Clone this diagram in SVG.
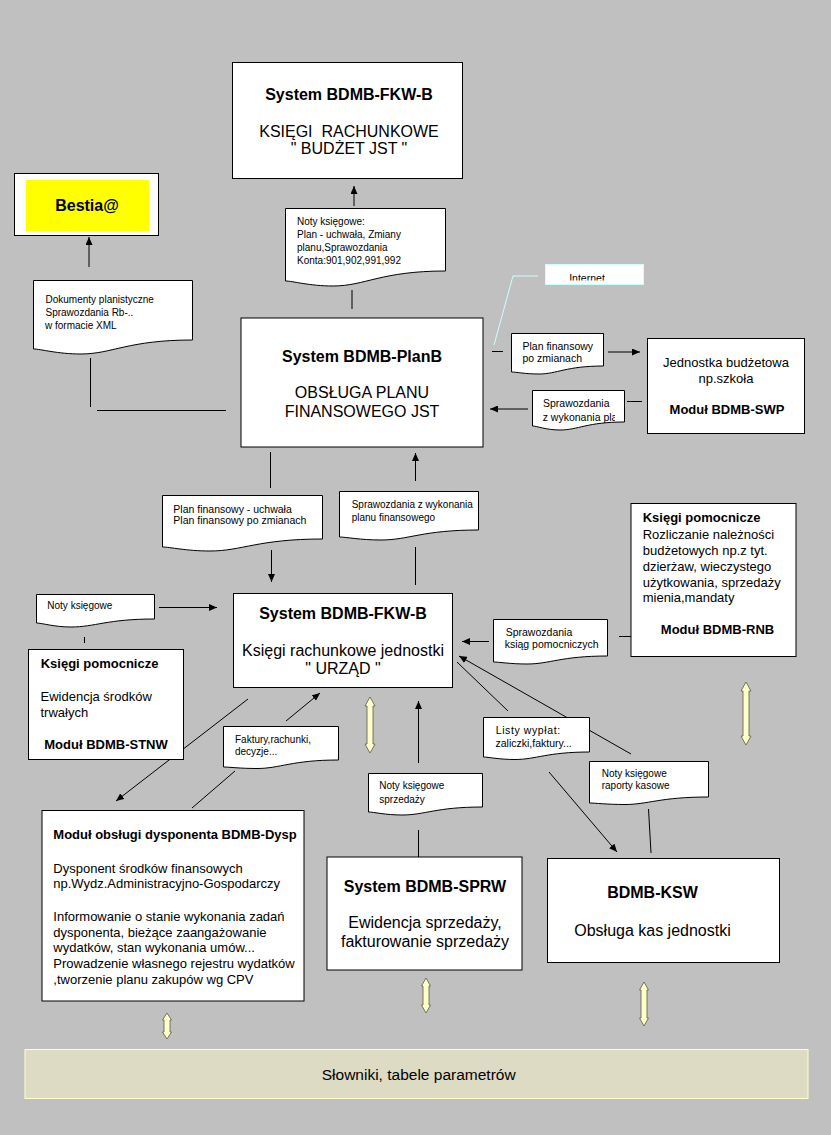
<svg xmlns="http://www.w3.org/2000/svg" width="831" height="1135" viewBox="0 0 831 1135">
<defs>
<style>
.bx{fill:#fff;stroke:#000;stroke-width:1}
.doc{fill:#fff;stroke:#000;stroke-width:1}
.ln{fill:none;stroke:#000;stroke-width:1}
.ar{fill:none;stroke:#000;stroke-width:1;marker-end:url(#ah)}
.ya{fill:#ffffcc;stroke:#5a5a40;stroke-width:0.8}
text{font-family:"Liberation Sans",Arial,sans-serif;fill:#000}
.t16b{font-size:16px;font-weight:bold;text-anchor:middle}
.t16{font-size:16px;text-anchor:middle}
.t13b{font-size:13px;font-weight:bold}
.t13{font-size:13px}
.d10{font-size:10px}
.d105{font-size:10.5px}
</style>
<marker id="ah" markerWidth="8" markerHeight="7" refX="8" refY="3.5" orient="auto" markerUnits="userSpaceOnUse"><path d="M0,0 L8,3.5 L0,7 Z" fill="#000"/></marker>
<clipPath id="clipPla"><rect x="532" y="390" width="83" height="40"/></clipPath>
<clipPath id="clipNet"><rect x="545" y="264" width="99" height="16.5"/></clipPath>
</defs>
<rect x="0" y="0" width="831" height="1135" fill="#c0c0c0"/>

<g id="connectors">
<line class="ar" x1="89" y1="267" x2="89" y2="237"/>
<line class="ar" x1="354" y1="206" x2="354" y2="186"/>
<line class="ln" x1="352" y1="290" x2="352" y2="309"/>
<line class="ln" x1="90.5" y1="358" x2="90.5" y2="407"/>
<line class="ln" x1="97" y1="410.5" x2="226" y2="410.5"/>
<polyline points="538,276 513,276 494,345" fill="none" stroke="#ccffff" stroke-width="1"/>
<line class="ln" x1="492" y1="351.5" x2="503" y2="351.5"/>
<line class="ar" x1="608" y1="352" x2="640" y2="352"/>
<line class="ln" x1="627" y1="401.5" x2="642" y2="401.5"/>
<line class="ar" x1="528" y1="409" x2="490" y2="409"/>
<line class="ln" x1="270.5" y1="452" x2="270.5" y2="488"/>
<line class="ar" x1="271.5" y1="550" x2="271.5" y2="582"/>
<line class="ar" x1="415.5" y1="481" x2="415.5" y2="453"/>
<line class="ln" x1="415.5" y1="547" x2="415.5" y2="585"/>
<line class="ar" x1="159" y1="607.5" x2="217" y2="607.5"/>
<line class="ln" x1="84.5" y1="637" x2="84.5" y2="643"/>
<line class="ln" x1="619" y1="636.5" x2="631" y2="636.5"/>
<line class="ar" x1="489" y1="641.5" x2="462" y2="641.5"/>
<line class="ar" x1="631" y1="754" x2="459" y2="656"/>
<line class="ln" x1="457" y1="662" x2="508" y2="711"/>
<line class="ar" x1="549" y1="772" x2="617" y2="852"/>
<line class="ln" x1="648.5" y1="809" x2="651" y2="853"/>
<line class="ar" x1="248" y1="699" x2="116" y2="801"/>
<line class="ar" x1="286" y1="721" x2="320" y2="693"/>
<line class="ln" x1="235" y1="771" x2="192" y2="808"/>
<line class="ar" x1="418.5" y1="763" x2="418.5" y2="701"/>
<line class="ln" x1="418.5" y1="830" x2="418.5" y2="857"/>
<path class="ya" d="M746,682 L751,691 L749,691 L749,736 L751,736 L746,745 L741,736 L743,736 L743,691 L741,691 Z"/>
<path class="ya" d="M370,697 L375,706 L373,706 L373,744 L375,744 L370,753 L365,744 L367,744 L367,706 L365,706 Z"/>
<path class="ya" d="M426,978 L430.5,986 L429,986 L429,1005 L430.5,1005 L426,1013 L421.5,1005 L423,1005 L423,986 L421.5,986 Z"/>
<path class="ya" d="M644,982 L648.5,990 L647,990 L647,1018 L648.5,1018 L644,1026 L639.5,1018 L641,1018 L641,990 L639.5,990 Z"/>
<path class="ya" d="M167,1013 L171.5,1020 L170,1020 L170,1032 L171.5,1032 L167,1039 L162.5,1032 L164,1032 L164,1020 L162.5,1020 Z"/>
</g>

<g id="fkw-budzet">
<rect class="bx" x="232.5" y="62.5" width="230" height="116"/>
<text class="t16b" x="349" y="100">System BDMB-FKW-B</text>
<text class="t16" x="349" y="137" xml:space="preserve">KSIĘGI  RACHUNKOWE</text>
<text class="t16" x="349" y="154">" BUDŻET JST "</text>
</g>

<g id="bestia">
<rect class="bx" x="14.5" y="173.5" width="144" height="62"/>
<rect x="26" y="180" width="123" height="51" fill="#ffff00"/>
<text class="t16b" x="87" y="211">Bestia@</text>
</g>

<g id="doc-noty-top">
<path class="doc" d="M285.5,208.5 H445.5 V271 C381,271 365,286 333,286 C309,286 293,281 285.5,281 Z"/>
<text class="d10" x="297" y="225">Noty księgowe:</text>
<text class="d10" x="297" y="238">Plan - uchwała, Zmiany</text>
<text class="d10" x="297" y="251">planu,Sprawozdania</text>
<text class="d10" x="297" y="263.5">Konta:901,902,991,992</text>
</g>

<g id="doc-dokumenty">
<path class="doc" d="M33.5,280.5 H192.5 V340 C128,340 112,354 81,354 C57,354 41,349 33.5,349 Z"/>
<text class="d10" x="45.5" y="303">Dokumenty planistyczne</text>
<text class="d10" x="45.5" y="316">Sprawozdania Rb-..</text>
<text class="d10" x="45" y="328.5">w formacie XML</text>
</g>

<g id="planb">
<rect class="bx" x="241" y="318" width="242" height="129"/>
<text class="t16b" x="362" y="362">System BDMB-PlanB</text>
<text class="t16" x="362" y="398">OBSŁUGA PLANU</text>
<text class="t16" x="362" y="416.5">FINANSOWEGO JST</text>
</g>

<g id="internet">
<rect x="545.5" y="264.5" width="98" height="20" fill="#fff" stroke="#ccffff" stroke-width="1"/>
<text class="d105" x="587" y="282" text-anchor="middle" clip-path="url(#clipNet)">Internet</text>
</g>

<g id="doc-plan-zmiany">
<path class="doc" d="M511.5,333.5 H603.5 V366 C566,366 557,374 539,374 C525,374 516,372 511.5,372 Z"/>
<text class="d105" x="522.5" y="350">Plan finansowy</text>
<text class="d105" x="522.5" y="361.7">po zmianach</text>
</g>

<g id="jednostka">
<rect class="bx" x="647.5" y="338.5" width="157" height="95"/>
<text class="t13" x="726" y="366.5" text-anchor="middle">Jednostka budżetowa</text>
<text class="t13" x="726" y="383" text-anchor="middle">np.szkoła</text>
<text class="t13b" x="727" y="414" text-anchor="middle">Moduł BDMB-SWP</text>
</g>

<g id="doc-sprawozdania-pla">
<path class="doc" d="M532.5,390.5 H624.5 V422 C587,422 578,430 560,430 C546,430 537,426 532.5,426 Z"/>
<text class="d105" x="543" y="406.7">Sprawozdania</text>
<text class="d105" x="542.7" y="420.5" clip-path="url(#clipPla)">z wykonania planu</text>
</g>

<g id="doc-plan-uchwala">
<path class="doc" d="M162.5,495.5 H322.5 V539 C258,539 242,551 210,551 C186,551 170,547 162.5,547 Z"/>
<text class="d105" x="173.3" y="512.7">Plan finansowy - uchwała</text>
<text class="d105" x="173.3" y="524.3">Plan finansowy po zmianach</text>
</g>

<g id="doc-sprawozdania-planu">
<path class="doc" d="M339.5,491.5 H478.5 V530 C422,530 409,540 381,540 C360,540 346,537 339.5,537 Z"/>
<text class="d10" x="351.7" y="507.5">Sprawozdania z wykonania</text>
<text class="d10" x="351.7" y="521">planu finansowego</text>
</g>

<g id="rnb">
<rect class="bx" x="631" y="503.5" width="165" height="153"/>
<text class="t13b" x="642.7" y="521.7">Księgi pomocnicze</text>
<text class="t13" x="642.7" y="539.3">Rozliczanie należności</text>
<text class="t13" x="642.7" y="555.3">budżetowych np.z tyt.</text>
<text class="t13" x="642.7" y="571">dzierżaw, wieczystego</text>
<text class="t13" x="642.7" y="586.7">użytkowania, sprzedaży</text>
<text class="t13" x="642.7" y="602.3">mienia,mandaty</text>
<text class="t13b" x="717.5" y="634.3" text-anchor="middle">Moduł BDMB-RNB</text>
</g>

<g id="doc-noty-left">
<path class="doc" d="M36.5,594.5 H154.5 V619 C107,619 95,627 71,627 C54,627 42,623 36.5,623 Z"/>
<text class="d10" x="47.3" y="609.3">Noty księgowe</text>
</g>

<g id="fkw-urzad">
<rect class="bx" x="233.5" y="593.5" width="219" height="94"/>
<text class="t16b" x="343" y="619.3">System BDMB-FKW-B</text>
<text class="t16" x="343" y="656">Księgi rachunkowe jednostki</text>
<text class="t16" x="343" y="674">" URZĄD "</text>
</g>

<g id="doc-sprawozdania-ksiag">
<path class="doc" d="M493.5,619.5 H607.5 V656 C561,656 550,664 527,664 C510,664 499,662 493.5,662 Z"/>
<text class="d105" x="505.7" y="635.7">Sprawozdania</text>
<text class="d105" x="504.7" y="648.3">ksiąg pomocniczych</text>
</g>

<g id="stnw">
<rect class="bx" x="28.5" y="649.5" width="155" height="110"/>
<text class="t13b" x="40.7" y="668.3">Księgi pomocnicze</text>
<text class="t13" x="40.5" y="700.7">Ewidencja środków</text>
<text class="t13" x="40.5" y="716.7">trwałych</text>
<text class="t13b" x="106" y="748.5" text-anchor="middle">Moduł BDMB-STNW</text>
</g>

<g id="doc-faktury">
<path class="doc" d="M223.5,726.5 H338.5 V760 C292,760 280,768.5 257,768.5 C240,768.5 229,767 223.5,767 Z"/>
<text class="d10" x="235" y="743.3">Faktury,rachunki,</text>
<text class="d10" x="235" y="755">decyzje...</text>
</g>

<g id="doc-listy">
<path class="doc" d="M483.5,717.5 H589.5 V752 C547,752 536,759.5 515,759.5 C499,759.5 488,757 483.5,757 Z"/>
<text class="d105" x="495.7" y="733.5" letter-spacing="0.6">Listy wypłat:</text>
<text class="d105" x="495.5" y="746.7">zaliczki,faktury...</text>
</g>

<g id="doc-noty-kasowe">
<path class="doc" d="M589.5,761.5 H708.5 V797 C660,797 648,804.5 625,804.5 C607,804.5 595,803 589.5,803 Z"/>
<text class="d10" x="601.7" y="776.7">Noty księgowe</text>
<text class="d10" x="601.7" y="789.3">raporty kasowe</text>
</g>

<g id="doc-noty-sprzedazy">
<path class="doc" d="M368.5,773.5 H482.5 V807 C436,807 425,815 402,815 C385,815 374,812 368.5,812 Z"/>
<text class="d10" x="379.3" y="789">Noty księgowe</text>
<text class="d10" x="379.3" y="802.7">sprzedaży</text>
</g>

<g id="dysp">
<rect class="bx" x="42" y="810.5" width="262" height="190.5"/>
<text class="t13b" x="53.3" y="839.3">Moduł obsługi dysponenta BDMB-Dysp</text>
<text class="t13" x="53.3" y="872.7">Dysponent środków finansowych</text>
<text class="t13" x="53.3" y="888.3">np.Wydz.Administracyjno-Gospodarczy</text>
<text class="t13" x="53.3" y="920.7">Informowanie o stanie wykonania zadań</text>
<text class="t13" x="53.3" y="936.5">dysponenta, bieżące zaangażowanie</text>
<text class="t13" x="53.3" y="952.3">wydatków, stan wykonania umów...</text>
<text class="t13" x="53.3" y="968">Prowadzenie własnego rejestru wydatków</text>
<text class="t13" x="53.3" y="984">,tworzenie planu zakupów wg CPV</text>
</g>

<g id="sprw">
<rect class="bx" x="327" y="857" width="195" height="113"/>
<text class="t16b" x="425" y="891.7">System BDMB-SPRW</text>
<text class="t16" x="425" y="928.3">Ewidencja sprzedaży,</text>
<text class="t16" x="425" y="946.7">fakturowanie sprzedaży</text>
</g>

<g id="ksw">
<rect class="bx" x="547.5" y="858.5" width="232" height="104"/>
<text class="t16b" x="652.5" y="898.3">BDMB-KSW</text>
<text class="t16" x="652.5" y="935.7">Obsługa kas jednostki</text>
</g>

<g id="slowniki">
<rect x="25" y="1049.5" width="783" height="49" fill="#dddbc4" stroke="#ffffcc" stroke-width="1"/>
<text x="418.7" y="1080" font-size="15.5" text-anchor="middle">Słowniki, tabele parametrów</text>
</g>
</svg>
